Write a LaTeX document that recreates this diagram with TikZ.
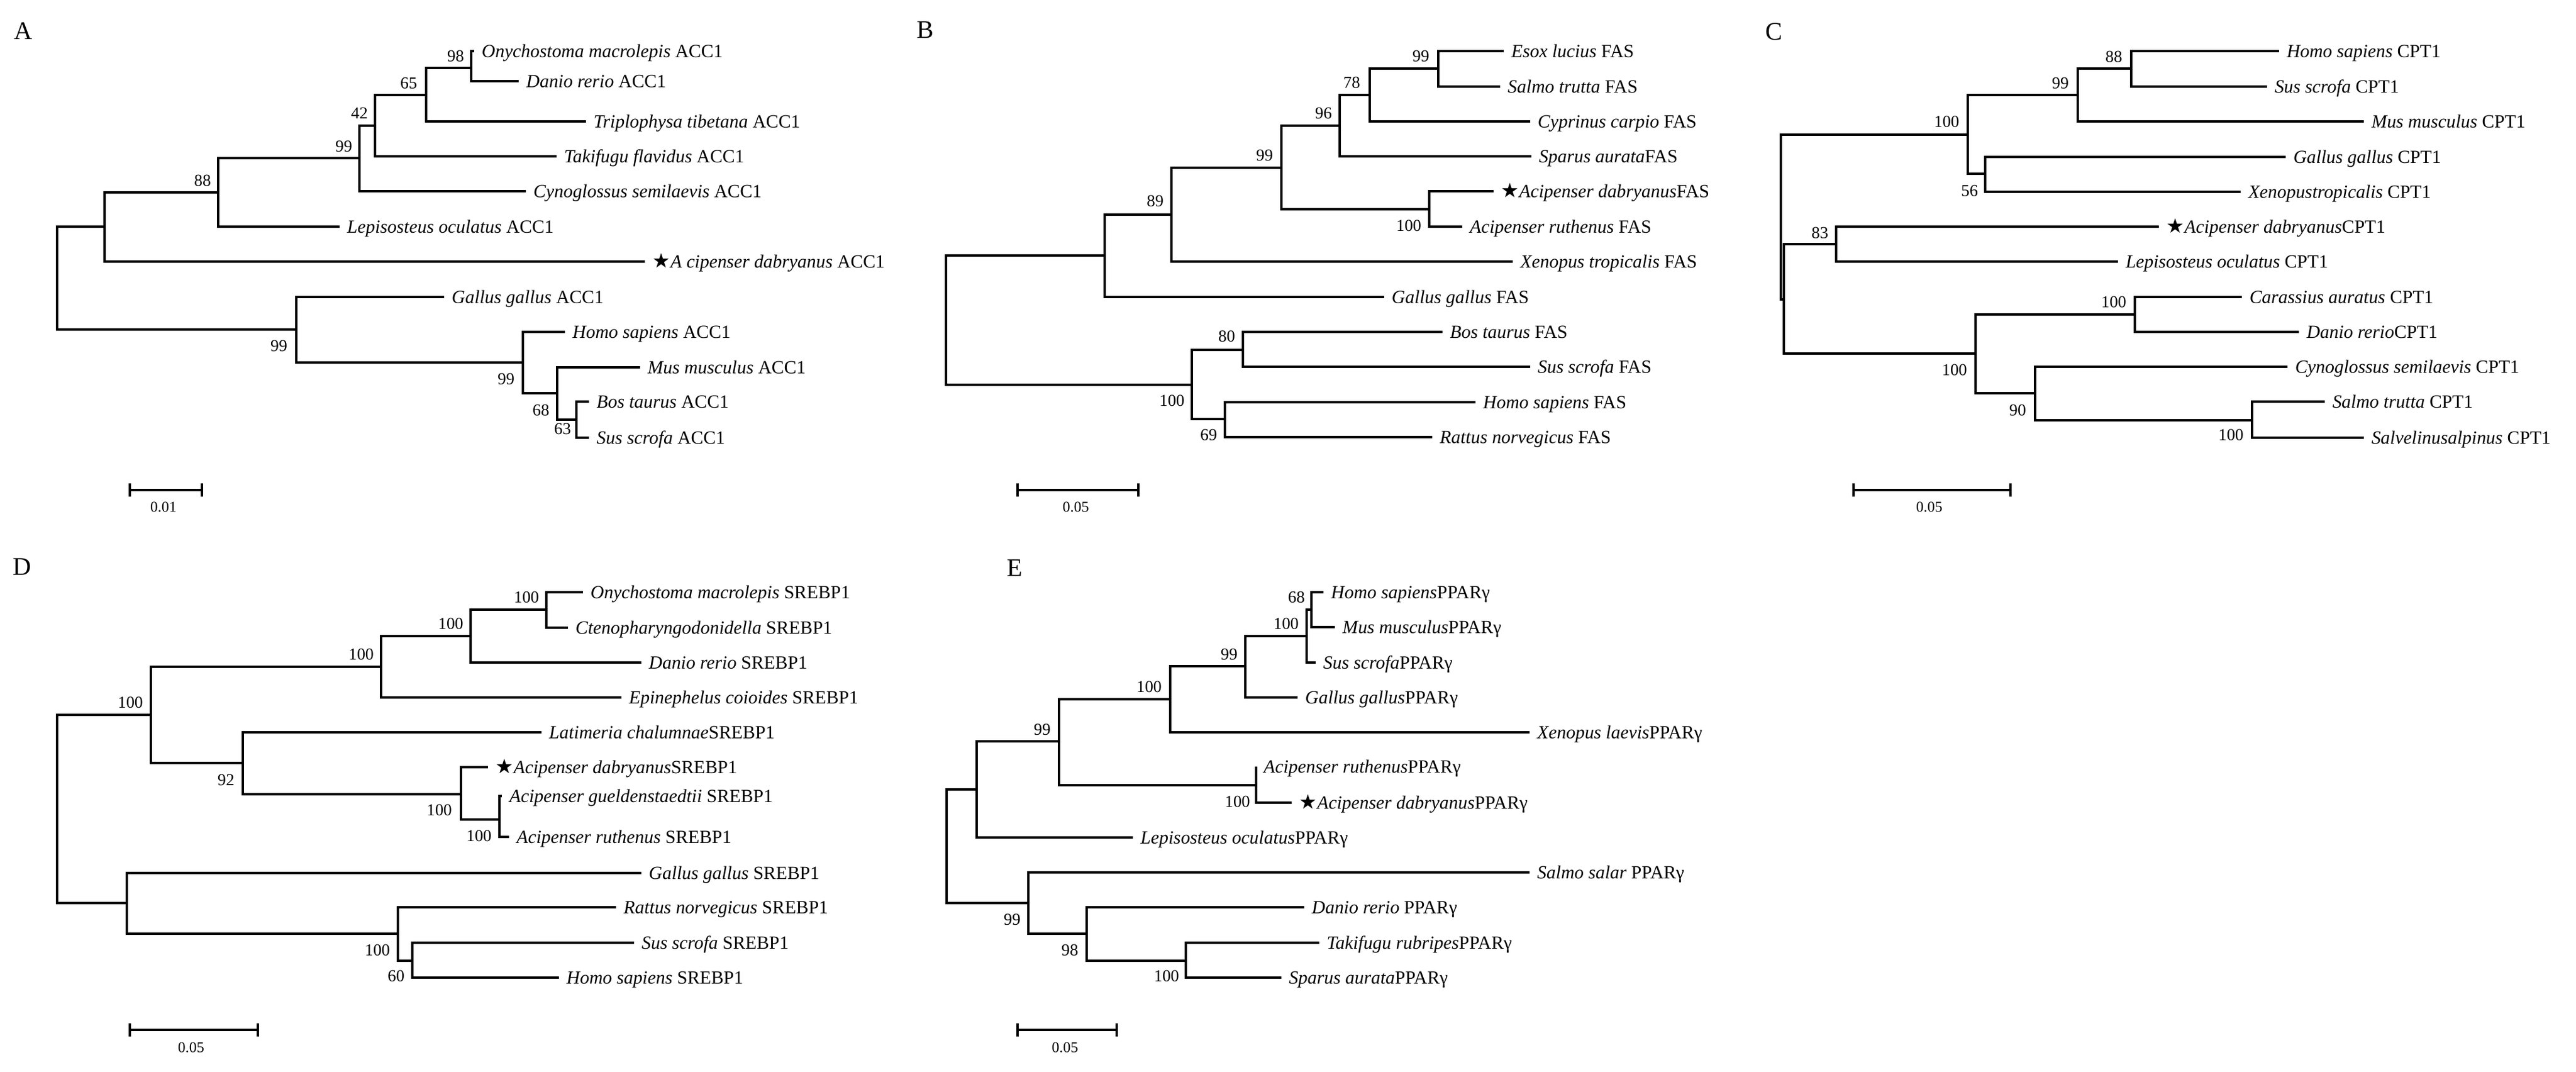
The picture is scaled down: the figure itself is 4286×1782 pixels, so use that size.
\documentclass[tikz,border=0pt]{standalone}
\usepackage{fontspec}
\setmainfont{Liberation Serif}
\newfontfamily\starfont{DejaVu Sans}
\usepackage{tikz}

\newcommand{\adab}{{\starfont\fontsize{9.5}{10}\selectfont ★}}

\begin{document}
\begin{tikzpicture}[
        x=0.1mm, y=-0.1mm,
        branch/.style={line width=0.35mm},
        taxon/.style={anchor=west, inner xsep=1.2mm, inner ysep=0pt, text height=5.8pt, text depth=0pt, font=\fontsize{8.8}{10}\selectfont},
        boot/.style={inner sep=0pt, font=\fontsize{7.9}{9}\selectfont},
        panel/.style={inner sep=0pt, font=\fontsize{12}{14}\selectfont},
        scaletxt/.style={inner sep=0pt, font=\fontsize{7.1}{8}\selectfont}
    ]
        \useasboundingbox (0,0) rectangle (4286,1782);

        % Panel A: ACC1
        \node[panel] (lblA) at (39,52) {A};
        \coordinate (rootA) at (95,462);
        \coordinate (a1) at (174,377);
        \coordinate (a2) at (363,320);
        \coordinate (a3) at (598,263);
        \coordinate (a4) at (624,209);
        \coordinate (a5) at (709,158);
        \coordinate (a6) at (784,113);
        \coordinate (a7) at (493,548);
        \coordinate (a8) at (870,603);
        \coordinate (a9) at (927,654);
        \coordinate (a10) at (959,698);
        \node[taxon] (aOma) at (789,85) {\textit{Onychostoma macrolepis} ACC1};
        \node[taxon] (aDre) at (863,135) {\textit{Danio rerio} ACC1};
        \node[taxon] (aTti) at (975,202) {\textit{Triplophysa tibetana} ACC1};
        \node[taxon] (aTfl) at (926,260) {\textit{Takifugu flavidus} ACC1};
        \node[taxon] (aCse) at (875,318) {\textit{Cynoglossus semilaevis} ACC1};
        \node[taxon] (aLoc) at (565,377) {\textit{Lepisosteus oculatus} ACC1};
        \node[taxon] (aAda) at (1073,435) {\adab\textit{A cipenser dabryanus} ACC1};
        \node[taxon] (aGga) at (739,494) {\textit{Gallus gallus} ACC1};
        \node[taxon] (aHsa) at (940,552) {\textit{Homo sapiens} ACC1};
        \node[taxon] (aMmu) at (1065,611) {\textit{Mus musculus} ACC1};
        \node[taxon] (aBta) at (980,668) {\textit{Bos taurus} ACC1};
        \node[taxon] (aSsc) at (980,728) {\textit{Sus scrofa} ACC1};
        \foreach \p/\c in {rootA/a1, rootA/a7, a1/a2, a1/aAda.west, a2/a3, a2/aLoc.west,
                a3/a4, a3/aCse.west, a4/a5, a4/aTfl.west, a5/a6, a5/aTti.west,
                a6/aOma.west, a6/aDre.west, a7/aGga.west, a7/a8, a8/aHsa.west, a8/a9,
                a9/aMmu.west, a9/a10, a10/aBta.west, a10/aSsc.west}
            \draw[branch] (\p) |- (\c);
        \node[boot] (bA1) at (758,93) {98};
        \node[boot] (bA2) at (680,138) {65};
        \node[boot] (bA3) at (598,188) {42};
        \node[boot] (bA4) at (572,243) {99};
        \node[boot] (bA5) at (337,300) {88};
        \node[boot] (bA6) at (464,575) {99};
        \node[boot] (bA7) at (842,630) {99};
        \node[boot] (bA8) at (900,682) {68};
        \node[boot] (bA9) at (936,713) {63};
        \coordinate (sAl) at (216,815);
        \coordinate (sAr) at (336,815);
        \draw[branch] (sAl) -- (sAr);
        \draw[branch] (sAl) ++(0,-11) -- ++(0,22);
        \draw[branch] (sAr) ++(0,-11) -- ++(0,22);
        \node[scaletxt] (sAt) at (272,843) {0.01};

        % Panel B: FAS
        \node[panel] (lblB) at (1540,50) {B};
        \coordinate (rootB) at (1574,532);
        \coordinate (b1) at (1838,425);
        \coordinate (b2) at (1949,357);
        \coordinate (b3) at (2132,279);
        \coordinate (b4) at (2229,209);
        \coordinate (b5) at (2279,158);
        \coordinate (b6) at (2393,114);
        \coordinate (bAc) at (2378,348);
        \coordinate (b7) at (1983,640);
        \coordinate (b8) at (2068,582);
        \coordinate (b9) at (2038,697);
        \node[taxon] (bElu) at (2502,85) {\textit{Esox lucius} FAS};
        \node[taxon] (bStr) at (2496,144) {\textit{Salmo trutta} FAS};
        \node[taxon] (bCca) at (2546,202) {\textit{Cyprinus carpio} FAS};
        \node[taxon] (bSau) at (2548,260) {\textit{Sparus aurata}FAS};
        \node[taxon] (bAda) at (2485,318) {\adab\textit{Acipenser dabryanus}FAS};
        \node[taxon] (bAru) at (2433,377) {\textit{Acipenser ruthenus} FAS};
        \node[taxon] (bXtr) at (2517,435) {\textit{Xenopus tropicalis} FAS};
        \node[taxon] (bGga) at (2303,494) {\textit{Gallus gallus} FAS};
        \node[taxon] (bBta) at (2400,552) {\textit{Bos taurus} FAS};
        \node[taxon] (bSsc) at (2546,610) {\textit{Sus scrofa} FAS};
        \node[taxon] (bHsa) at (2455,669) {\textit{Homo sapiens} FAS};
        \node[taxon] (bRno) at (2383,727) {\textit{Rattus norvegicus} FAS};
        \foreach \p/\c in {rootB/b1, rootB/b7, b1/b2, b1/bGga.west, b2/b3, b2/bXtr.west,
                b3/b4, b3/bAc, b4/b5, b4/bSau.west, b5/b6, b5/bCca.west,
                b6/bElu.west, b6/bStr.west, bAc/bAda.west, bAc/bAru.west,
                b7/b8, b7/b9, b8/bBta.west, b8/bSsc.west, b9/bHsa.west, b9/bRno.west}
            \draw[branch] (\p) |- (\c);
        \node[boot] (bB1) at (2364,93) {99};
        \node[boot] (bB2) at (2249,137) {78};
        \node[boot] (bB3) at (2202,188) {96};
        \node[boot] (bB4) at (2104,258) {99};
        \node[boot] (bB5) at (1922,334) {89};
        \node[boot] (bB6) at (2344,375) {100};
        \node[boot] (bB7) at (2041,559) {80};
        \node[boot] (bB8) at (1950,666) {100};
        \node[boot] (bB9) at (2011,723) {69};
        \coordinate (sBl) at (1693,815);
        \coordinate (sBr) at (1894,815);
        \draw[branch] (sBl) -- (sBr);
        \draw[branch] (sBl) ++(0,-11) -- ++(0,22);
        \draw[branch] (sBr) ++(0,-11) -- ++(0,22);
        \node[scaletxt] (sBt) at (1790,843) {0.05};

        % Panel C: CPT1
        \node[panel] (lblC) at (2952,53) {C};
        \coordinate (rootC) at (2963,361);
        \coordinate (cTop) at (3274,224);
        \coordinate (c99) at (3457,158);
        \coordinate (c88) at (3546,114);
        \coordinate (c56) at (3303,289);
        \coordinate (cBot) at (2968,498);
        \coordinate (c83) at (3055,406);
        \coordinate (cFish) at (3287,588);
        \coordinate (cCyp) at (3552,523);
        \coordinate (c90) at (3386,654);
        \coordinate (cSmo) at (3747,699);
        \node[taxon] (cHsa) at (3792,85) {\textit{Homo sapiens} CPT1};
        \node[taxon] (cSsc) at (3772,144) {\textit{Sus scrofa} CPT1};
        \node[taxon] (cMmu) at (3933,202) {\textit{Mus musculus} CPT1};
        \node[taxon] (cGga) at (3803,261) {\textit{Gallus gallus} CPT1};
        \node[taxon] (cXtr) at (3728,319) {\textit{Xenopustropicalis} CPT1};
        \node[taxon] (cAda) at (3592,377) {\adab\textit{Acipenser dabryanus}CPT1};
        \node[taxon] (cLoc) at (3524,435) {\textit{Lepisosteus oculatus} CPT1};
        \node[taxon] (cCau) at (3730,494) {\textit{Carassius auratus} CPT1};
        \node[taxon] (cDre) at (3825,552) {\textit{Danio rerio}CPT1};
        \node[taxon] (cCse) at (3806,610) {\textit{Cynoglossus semilaevis} CPT1};
        \node[taxon] (cStr) at (3868,668) {\textit{Salmo trutta} CPT1};
        \node[taxon] (cSal) at (3933,728) {\textit{Salvelinusalpinus} CPT1};
        \foreach \p/\c in {rootC/cTop, rootC/cBot, cTop/c99, cTop/c56, c99/c88, c99/cMmu.west,
                c88/cHsa.west, c88/cSsc.west, c56/cGga.west, c56/cXtr.west,
                cBot/c83, cBot/cFish, c83/cAda.west, c83/cLoc.west,
                cFish/cCyp, cFish/c90, cCyp/cCau.west, cCyp/cDre.west,
                c90/cCse.west, c90/cSmo, cSmo/cStr.west, cSmo/cSal.west}
            \draw[branch] (\p) |- (\c);
        \node[boot] (bC1) at (3517,94) {88};
        \node[boot] (bC2) at (3428,138) {99};
        \node[boot] (bC3) at (3239,202) {100};
        \node[boot] (bC4) at (3277,317) {56};
        \node[boot] (bC5) at (3028,387) {83};
        \node[boot] (bC6) at (3517,502) {100};
        \node[boot] (bC7) at (3252,615) {100};
        \node[boot] (bC8) at (3357,682) {90};
        \node[boot] (bC9) at (3712,723) {100};
        \coordinate (sCl) at (3084,815);
        \coordinate (sCr) at (3345,815);
        \draw[branch] (sCl) -- (sCr);
        \draw[branch] (sCl) ++(0,-11) -- ++(0,22);
        \draw[branch] (sCr) ++(0,-11) -- ++(0,22);
        \node[scaletxt] (sCt) at (3210,843) {0.05};

        % Panel D: SREBP1
        \node[panel] (lblD) at (37,943) {D};
        \coordinate (rootD) at (95,1345);
        \coordinate (d1) at (251,1189);
        \coordinate (d3) at (634,1109);
        \coordinate (d4) at (783,1058);
        \coordinate (d5) at (909,1014);
        \coordinate (d92) at (404,1269);
        \coordinate (d6) at (767,1321);
        \coordinate (d7) at (831,1363);
        \coordinate (d2) at (211,1502);
        \coordinate (d8) at (662,1553);
        \coordinate (d9) at (686,1598);
        \node[taxon] (dOma) at (970,985) {\textit{Onychostoma macrolepis} SREBP1};
        \node[taxon] (dCid) at (945,1044) {\textit{Ctenopharyngodonidella} SREBP1};
        \node[taxon] (dDre) at (1067,1102) {\textit{Danio rerio} SREBP1};
        \node[taxon] (dEco) at (1034,1160) {\textit{Epinephelus coioides} SREBP1};
        \node[taxon] (dLch) at (901,1218) {\textit{Latimeria chalumnae}SREBP1};
        \node[taxon] (dAda) at (812,1276) {\adab\textit{Acipenser dabryanus}SREBP1};
        \node[taxon] (dAgu) at (835,1324) {\textit{Acipenser gueldenstaedtii} SREBP1};
        \node[taxon] (dAru) at (847,1392) {\textit{Acipenser ruthenus} SREBP1};
        \node[taxon] (dGga) at (1067,1452) {\textit{Gallus gallus} SREBP1};
        \node[taxon] (dRno) at (1025,1509) {\textit{Rattus norvegicus} SREBP1};
        \node[taxon] (dSsc) at (1055,1568) {\textit{Sus scrofa} SREBP1};
        \node[taxon] (dHsa) at (930,1626) {\textit{Homo sapiens} SREBP1};
        \foreach \p/\c in {rootD/d1, rootD/d2, d1/d3, d1/d92, d3/d4, d3/dEco.west,
                d4/d5, d4/dDre.west, d5/dOma.west, d5/dCid.west,
                d92/dLch.west, d92/d6, d6/dAda.west, d6/d7, d7/dAgu.west, d7/dAru.west,
                d2/dGga.west, d2/d8, d8/dRno.west, d8/d9, d9/dSsc.west, d9/dHsa.west}
            \draw[branch] (\p) |- (\c);
        \node[boot] (bD1) at (876,993) {100};
        \node[boot] (bD2) at (750,1037) {100};
        \node[boot] (bD3) at (601,1088) {100};
        \node[boot] (bD4) at (217,1168) {100};
        \node[boot] (bD5) at (376,1297) {92};
        \node[boot] (bD6) at (731,1347) {100};
        \node[boot] (bD7) at (797,1390) {100};
        \node[boot] (bD8) at (628,1580) {100};
        \node[boot] (bD9) at (659,1623) {60};
        \coordinate (sDl) at (216,1713);
        \coordinate (sDr) at (429,1713);
        \draw[branch] (sDl) -- (sDr);
        \draw[branch] (sDl) ++(0,-11) -- ++(0,22);
        \draw[branch] (sDr) ++(0,-11) -- ++(0,22);
        \node[scaletxt] (sDt) at (318,1742) {0.05};

        % Panel E: PPARgamma
        \node[panel] (lblE) at (1688,945) {E};
        \coordinate (rootE) at (1575,1408);
        \coordinate (e1) at (1625,1313);
        \coordinate (e99) at (1762,1233);
        \coordinate (eTet) at (1947,1163);
        \coordinate (eAmn) at (2072,1108);
        \coordinate (eMam) at (2174,1058);
        \coordinate (e68) at (2182,1014);
        \coordinate (eAc) at (2090,1306);
        \coordinate (e2) at (1711,1502);
        \coordinate (e98) at (1808,1553);
        \coordinate (ePer) at (1973,1598);
        \node[taxon] (eHsa) at (2202,985) {\textit{Homo sapiens}PPARγ};
        \node[taxon] (eMmu) at (2221,1043) {\textit{Mus musculus}PPARγ};
        \node[taxon] (eSsc) at (2189,1102) {\textit{Sus scrofa}PPARγ};
        \node[taxon] (eGga) at (2159,1160) {\textit{Gallus gallus}PPARγ};
        \node[taxon] (eXla) at (2545,1218) {\textit{Xenopus laevis}PPARγ};
        \node[taxon] (eAru) at (2090,1275) {\textit{Acipenser ruthenus}PPARγ};
        \node[taxon] (eAda) at (2149,1335) {\adab\textit{Acipenser dabryanus}PPARγ};
        \node[taxon] (eLoc) at (1885,1393) {\textit{Lepisosteus oculatus}PPARγ};
        \node[taxon] (eSsa) at (2545,1451) {\textit{Salmo salar} PPARγ};
        \node[taxon] (eDre) at (2170,1509) {\textit{Danio rerio} PPARγ};
        \node[taxon] (eTru) at (2195,1568) {\textit{Takifugu rubripes}PPARγ};
        \node[taxon] (eSau) at (2132,1626) {\textit{Sparus aurata}PPARγ};
        \foreach \p/\c in {rootE/e1, rootE/e2, e1/e99, e1/eLoc.west, e99/eTet, e99/eAc,
                eTet/eAmn, eTet/eXla.west, eAmn/eMam, eAmn/eGga.west,
                eMam/e68, eMam/eSsc.west, e68/eHsa.west, e68/eMmu.west,
                eAc/eAru.west, eAc/eAda.west, e2/eSsa.west, e2/e98,
                e98/eDre.west, e98/ePer, ePer/eTru.west, ePer/eSau.west}
            \draw[branch] (\p) |- (\c);
        \node[boot] (bE1) at (2157,993) {68};
        \node[boot] (bE2) at (2140,1037) {100};
        \node[boot] (bE3) at (2045,1088) {99};
        \node[boot] (bE4) at (1912,1142) {100};
        \node[boot] (bE5) at (1734,1213) {99};
        \node[boot] (bE6) at (2059,1333) {100};
        \node[boot] (bE7) at (1684,1529) {99};
        \node[boot] (bE8) at (1780,1580) {98};
        \node[boot] (bE9) at (1941,1623) {100};
        \coordinate (sEl) at (1693,1713);
        \coordinate (sEr) at (1858,1713);
        \draw[branch] (sEl) -- (sEr);
        \draw[branch] (sEl) ++(0,-11) -- ++(0,22);
        \draw[branch] (sEr) ++(0,-11) -- ++(0,22);
        \node[scaletxt] (sEt) at (1772,1742) {0.05};
    \end{tikzpicture}
\end{document}
